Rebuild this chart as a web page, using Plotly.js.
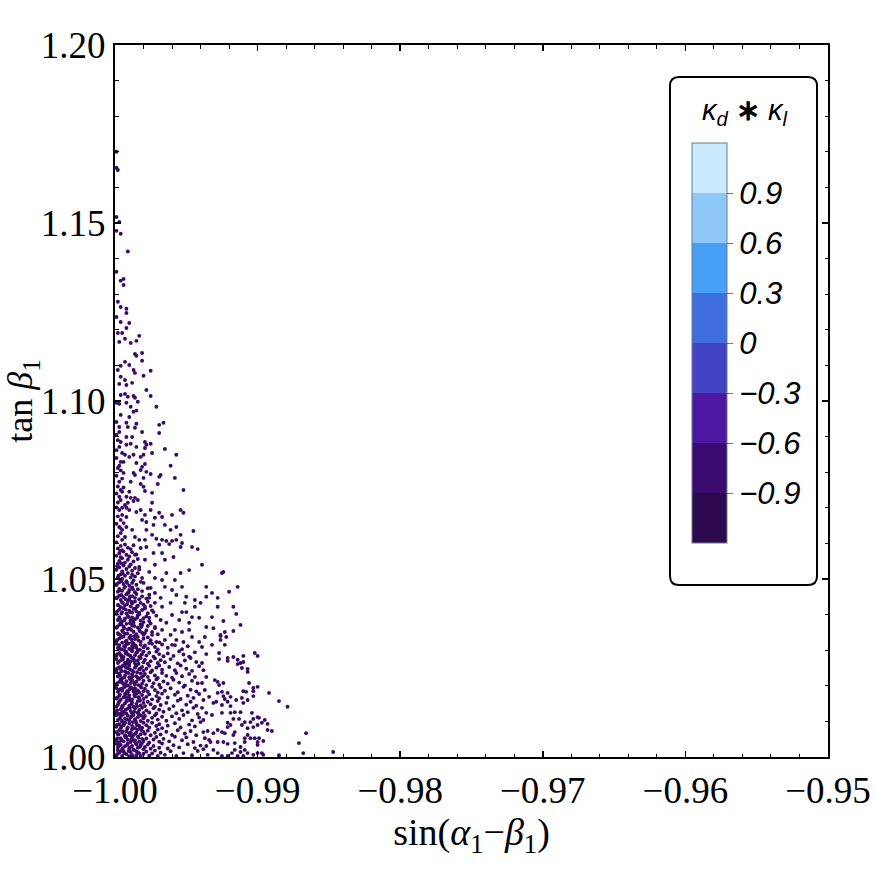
<!DOCTYPE html>
<html><head><meta charset="utf-8">
<script src="https://cdn.plot.ly/plotly-3.0.1.min.js"></script>
<style>html,body{margin:0;padding:0;background:#fff}#chart{width:875px;height:875px}</style>
</head><body><div id="chart"></div>
<script>
// Axis ticks
const xTickVals = [-1.00, -0.99, -0.98, -0.97, -0.96, -0.95];
const xTickText = ['\u22121.00', '\u22120.99', '\u22120.98', '\u22120.97', '\u22120.96', '\u22120.95'];
const yTickVals = [1.00, 1.05, 1.10, 1.15, 1.20];
const yTickText = ['1.00', '1.05', '1.10', '1.15', '1.20'];
// Colour legend (kappa_d * kappa_l)
const cbBounds = [-1.2, -0.9, -0.6, -0.3, 0, 0.3, 0.6, 0.9, 1.2];
const cbColors = ['#2c0a4d', '#3c0b72', '#4d17a1', '#4343c5', '#3f6fdf', '#469ef5', '#8dc8f9', '#cbe9fc'];
const cbTickVals = [-0.9, -0.6, -0.3, 0, 0.3, 0.6, 0.9];
const cbTickText = ['\u22120.9', '\u22120.6', '\u22120.3', '0', '0.3', '0.6', '0.9'];

// Scatter points [sin(a1-b1), tan b1]
const ptsUpper = [
[-0.9999,1.1700],[-0.9999,1.1655],[-0.9998,1.1649],[-0.9999,1.1517],[-0.9997,1.1503],[-0.9999,1.1478],[-0.9996,1.1470],[-0.9991,1.1420],[-0.9999,1.1363],[-0.9996,1.1338],
[-0.9994,1.1343],[-0.9994,1.1326],[-0.9998,1.1279],[-0.9996,1.1264],[-0.9992,1.1259],[-0.9992,1.1247],[-0.9999,1.1236],[-0.9996,1.1222],[-0.9990,1.1219],[-0.9992,1.1205],
[-0.9998,1.1191],[-0.9995,1.1191],[-0.9997,1.1166],[-0.9993,1.1175],[-0.9989,1.1163],[-0.9985,1.1169],[-0.9983,1.1183],[-0.9986,1.1132],[-0.9985,1.1127],[-0.9981,1.1135],
[-0.9981,1.1113],[-0.9993,1.1110],[-0.9990,1.1101],[-0.9996,1.1099],[-0.9998,1.1087],[-0.9987,1.1087],[-0.9986,1.1079],[-0.9975,1.1085],[-0.9996,1.1068],[-0.9993,1.1059],
[-0.9980,1.1071],[-0.9997,1.1048],[-0.9988,1.1051],[-0.9992,1.1045],[-0.9996,1.1017],[-0.9993,1.1020],[-0.9991,1.1012],[-0.9987,1.1014],[-0.9978,1.1031],[-0.9975,1.1014],
[-0.9999,1.0995],[-0.9997,1.0992],[-0.9992,1.0995],[-0.9989,1.0984],[-0.9986,1.1009],[-0.9984,1.0998],[-0.9971,1.0984],[-0.9987,1.0970],[-0.9996,1.0961],[-0.9990,1.0955],
[-0.9985,1.0973],[-0.9999,1.0941],[-0.9992,1.0939],[-0.9985,1.0936],[-0.9969,1.0933],[-0.9966,1.0939],[-0.9991,1.0927],[-0.9986,1.0925],[-0.9997,1.0927]
];
const ptsMidUpper = [
[-0.9997,1.0913],[-0.9992,1.0899],[-0.9988,1.0899],[-0.9981,1.0913],[-0.9969,1.0910],
[-0.9996,1.0885],[-0.9997,1.0871],[-0.9992,1.0877],[-0.9989,1.0880],[-0.9985,1.0871],[-0.9979,1.0885],[-0.9978,1.0877],[-0.9979,1.0868],[-0.9975,1.0880],[-0.9965,1.0865],[-0.9957,1.0849],
[-0.9995,1.0854],[-0.9993,1.0849],[-0.9999,1.0840],[-0.9996,1.0829],[-0.9990,1.0843],[-0.9987,1.0849],[-0.9982,1.0843],[-0.9980,1.0849],[-0.9974,1.0854],
[-0.9994,1.0829],[-0.9985,1.0826],[-0.9979,1.0823],[-0.9981,1.0815],[-0.9982,1.0806],[-0.9961,1.0818],[-0.9978,1.0801],
[-0.9994,1.0798],[-0.9987,1.0798],[-0.9986,1.0792],[-0.9975,1.0795],[-0.9969,1.0787],[-0.9968,1.0792],[-0.9958,1.0784],[-0.9980,1.0784],
[-0.9997,1.0773],[-0.9989,1.0773],[-0.9982,1.0767],[-0.9980,1.0759],[-0.9970,1.0767],[-0.9952,1.0750],
[-0.9996,1.0750],[-0.9995,1.0745],[-0.9990,1.0745],[-0.9979,1.0747],[-0.9974,1.0742],
[-0.9997,1.0731],[-0.9992,1.0731],[-0.9989,1.0728],[-0.9986,1.0728],[-0.9987,1.0719],[-0.9984,1.0722],[-0.9974,1.0714],[-0.9991,1.0714],[-0.9993,1.0708],
[-0.9997,1.0694],[-0.9992,1.0700],[-0.9990,1.0694],[-0.9982,1.0694],[-0.9985,1.0688],[-0.9975,1.0694],[-0.9969,1.0686],[-0.9954,1.0694],[-0.9952,1.0686],
[-0.9995,1.0680],[-0.9992,1.0674],[-0.9979,1.0680],[-0.9972,1.0672],[-0.9967,1.0674],[-0.9960,1.0680],
[-0.9996,1.0666],[-0.9981,1.0666],[-0.9978,1.0660],
[-0.9997,1.0646],[-0.9992,1.0646],[-0.9995,1.0638],[-0.9988,1.0638],[-0.9973,1.0652],[-0.9965,1.0652],[-0.9961,1.0638],[-0.9957,1.0646],[-0.9945,1.0635],[-0.9978,1.0638],
[-0.9996,1.0629],[-0.9993,1.0618],[-0.9995,1.0610],[-0.9986,1.0618],[-0.9983,1.0610],[-0.9974,1.0624],[-0.9971,1.0613],[-0.9967,1.0610],[-0.9964,1.0607],[-0.9960,1.0607],
[-0.9954,1.0624],[-0.9953,1.0601],[-0.9957,1.0610],[-0.9979,1.0610],
[-0.9999,1.0905],[-0.9998,1.0890],[-0.9999,1.0862],[-0.9998,1.0812],[-0.9999,1.0790],[-0.9998,1.0760],[-0.9999,1.0740],[-0.9998,1.0715],[-0.9999,1.0701],[-0.9998,1.0676],
[-0.9999,1.0655],[-0.9998,1.0620],[-0.9999,1.0603],[-0.9997,1.0818],[-0.9996,1.0805],[-0.9995,1.0782],[-0.9994,1.0757],[-0.9996,1.0722],[-0.9995,1.0700],[-0.9994,1.0657],[-0.9996,1.0643]
];
const ptsMid = [
[-0.9954,1.0590],[-0.9946,1.0590],[-0.9942,1.0584],[-0.9939,1.0540],[-0.9925,1.0517],[-0.9936,1.0478],[-0.9932,1.0461],[-0.9936,1.0450],[-0.9944,1.0441],[-0.9940,1.0433],
[-0.9950,1.0450],[-0.9951,1.0433],[-0.9944,1.0422],[-0.9932,1.0393],[-0.9936,1.0365],[-0.9931,1.0362],[-0.9926,1.0343],[-0.9937,1.0337],[-0.9932,1.0315],[-0.9941,1.0323],
[-0.9946,1.0337],[-0.9948,1.0357],[-0.9941,1.0391],[-0.9946,1.0393],[-0.9948,1.0377],[-0.9953,1.0407],[-0.9950,1.0407],[-0.9955,1.0385],[-0.9958,1.0357],[-0.9953,1.0351],
[-0.9961,1.0343],[-0.9957,1.0329],[-0.9952,1.0323],[-0.9960,1.0315],[-0.9965,1.0329],[-0.9967,1.0357],[-0.9964,1.0377],[-0.9960,1.0399],[-0.9968,1.0385],[-0.9972,1.0365],
[-0.9974,1.0343],[-0.9971,1.0323],[-0.9976,1.0320],[-0.9979,1.0348],[-0.9981,1.0371],[-0.9976,1.0391],[-0.9973,1.0407],[-0.9967,1.0422],[-0.9961,1.0433],[-0.9957,1.0455],
[-0.9960,1.0469],[-0.9953,1.0478],[-0.9958,1.0497],[-0.9964,1.0517],[-0.9954,1.0517],[-0.9948,1.0525],[-0.9967,1.0497],[-0.9965,1.0478],[-0.9972,1.0461],[-0.9976,1.0447],
[-0.9968,1.0447],[-0.9979,1.0422],[-0.9983,1.0405],[-0.9972,1.0433],[-0.9975,1.0475],[-0.9980,1.0489],[-0.9972,1.0503],[-0.9976,1.0520],[-0.9972,1.0540],[-0.9965,1.0554],
[-0.9959,1.0562],[-0.9967,1.0573],[-0.9973,1.0573],[-0.9979,1.0554],[-0.9983,1.0534],[-0.9978,1.0590],[-0.9969,1.0596],[-0.9962,1.0598],[-0.9982,1.0587],[-0.9986,1.0568]
];
const ptsRight = [
[-0.9924,1.0520],[-0.9914,1.0478],[-0.9920,1.0464],[-0.9928,1.0447],[-0.9928,1.0422],[-0.9917,1.0422],[-0.9915,1.0402],[-0.9924,1.0382],[-0.9912,1.0371],[-0.9917,1.0354],
[-0.9923,1.0351],[-0.9926,1.0340],[-0.9922,1.0337],[-0.9926,1.0329],[-0.9923,1.0315],[-0.9927,1.0292],[-0.9902,1.0292],[-0.9900,1.0284],[-0.9910,1.0284],[-0.9917,1.0281],
[-0.9921,1.0278],[-0.9921,1.0270],[-0.9914,1.0273],[-0.9912,1.0264],[-0.9910,1.0267],[-0.9914,1.0261],[-0.9911,1.0250],[-0.9907,1.0247],[-0.9907,1.0239],[-0.9927,1.0275],
[-0.9930,1.0216],[-0.9928,1.0211],[-0.9924,1.0208],[-0.9927,1.0202],[-0.9906,1.0208],[-0.9903,1.0194],[-0.9900,1.0197],[-0.9903,1.0185],[-0.9910,1.0185],[-0.9908,1.0183],
[-0.9928,1.0180],[-0.9925,1.0183],[-0.9924,1.0171],[-0.9921,1.0180],[-0.9903,1.0171],[-0.9892,1.0180],[-0.9923,1.0163],[-0.9919,1.0169],[-0.9921,1.0155],[-0.9915,1.0160],
[-0.9911,1.0166],[-0.9907,1.0160],[-0.9929,1.0155],[-0.9885,1.0157],[-0.9879,1.0141],[-0.9925,1.0146],[-0.9919,1.0143],[-0.9910,1.0152],[-0.9919,1.0124],[-0.9916,1.0126],
[-0.9912,1.0126],[-0.9904,1.0124],[-0.9925,1.0124],[-0.9903,1.0107],[-0.9900,1.0112],[-0.9899,1.0110],[-0.9905,1.0098],[-0.9897,1.0096],[-0.9895,1.0104],[-0.9893,1.0093],
[-0.9909,1.0098],[-0.9913,1.0107],[-0.9917,1.0107],[-0.9921,1.0096],[-0.9921,1.0084],[-0.9919,1.0090],[-0.9911,1.0090],[-0.9907,1.0081],[-0.9903,1.0084],[-0.9900,1.0090],
[-0.9893,1.0076],[-0.9890,1.0073],[-0.9928,1.0076],[-0.9925,1.0070],[-0.9923,1.0067],[-0.9916,1.0070],[-0.9917,1.0062],[-0.9907,1.0062],[-0.9909,1.0053],[-0.9905,1.0053],
[-0.9902,1.0053],[-0.9899,1.0053],[-0.9900,1.0042],[-0.9896,1.0045],[-0.9866,1.0067],[-0.9871,1.0039],[-0.9868,1.0011],[-0.9885,1.0005],[-0.9900,1.0034],[-0.9928,1.0042],
[-0.9924,1.0042],[-0.9921,1.0037],[-0.9916,1.0039],[-0.9912,1.0028],[-0.9909,1.0042],[-0.9916,1.0020],[-0.9912,1.0014],[-0.9909,1.0020],[-0.9907,1.0011],[-0.9903,1.0006],
[-0.9900,1.0011],[-0.9897,1.0011],[-0.9896,1.0006],[-0.9928,1.0011],[-0.9925,1.0003],[-0.9918,1.0011],[-0.9921,1.0003],[-0.9914,1.0003],[-0.9910,1.0003],[-0.9847,1.0014],
[-0.9939,1.0309],[-0.9936,1.0289],[-0.9939,1.0264],[-0.9938,1.0244],[-0.9936,1.0225],[-0.9939,1.0208],[-0.9937,1.0188],[-0.9934,1.0169],[-0.9938,1.0160],[-0.9931,1.0152],
[-0.9939,1.0138],[-0.9936,1.0124],[-0.9932,1.0118],[-0.9938,1.0104],[-0.9938,1.0070],[-0.9935,1.0073],[-0.9931,1.0067],[-0.9937,1.0053],[-0.9933,1.0042],[-0.9936,1.0031],
[-0.9938,1.0022],[-0.9931,1.0020],[-0.9935,1.0006]
];
const ptsDense = [
[-0.9999,1.0004],[-0.9997,1.0012],[-0.9995,1.0003],[-0.9994,1.0016],[-0.9992,1.0008],[-0.9990,1.0002],[-0.9989,1.0014],[-0.9988,1.0006],[-0.9986,1.0018],[-0.9985,1.0005],[-0.9983,1.0011],[-0.9982,1.0002],[-0.9980,1.0009],[-0.9998,1.0019],
[-0.9978,1.0015],[-0.9976,1.0004],[-0.9974,1.0010],[-0.9972,1.0018],[-0.9970,1.0003],[-0.9968,1.0012],[-0.9965,1.0006],[-0.9961,1.0016],[-0.9957,1.0003],[-0.9952,1.0011],[-0.9946,1.0005],[-0.9942,1.0017],
[-0.9998,1.0027],[-0.9996,1.0034],[-0.9995,1.0022],[-0.9993,1.0030],[-0.9991,1.0038],[-0.9990,1.0024],[-0.9988,1.0031],[-0.9987,1.0021],[-0.9985,1.0036],[-0.9984,1.0026],[-0.9982,1.0033],[-0.9980,1.0022],[-0.9999,1.0037],[-0.9981,1.0039],
[-0.9979,1.0028],[-0.9977,1.0035],[-0.9975,1.0023],[-0.9973,1.0031],[-0.9969,1.0026],[-0.9967,1.0038],[-0.9963,1.0024],[-0.9959,1.0033],[-0.9955,1.0027],[-0.9949,1.0036],[-0.9944,1.0025],[-0.9940,1.0032],
[-0.9999,1.0046],[-0.9997,1.0041],[-0.9996,1.0053],[-0.9994,1.0044],[-0.9992,1.0057],[-0.9991,1.0048],[-0.9989,1.0042],[-0.9988,1.0055],[-0.9986,1.0047],[-0.9984,1.0058],[-0.9983,1.0043],[-0.9981,1.0051],[-0.9980,1.0045],[-0.9993,1.0059],
[-0.9978,1.0052],[-0.9976,1.0041],[-0.9973,1.0049],[-0.9971,1.0056],[-0.9969,1.0043],[-0.9966,1.0051],[-0.9962,1.0044],[-0.9958,1.0057],[-0.9953,1.0047],[-0.9950,1.0055],[-0.9945,1.0042],[-0.9934,1.0048],
[-0.9998,1.0063],[-0.9997,1.0075],[-0.9995,1.0068],[-0.9993,1.0061],[-0.9992,1.0072],[-0.9990,1.0066],[-0.9988,1.0078],[-0.9987,1.0062],[-0.9985,1.0070],[-0.9984,1.0077],[-0.9982,1.0064],[-0.9980,1.0071],[-0.9999,1.0070],[-0.9989,1.0069],
[-0.9979,1.0065],[-0.9977,1.0074],[-0.9975,1.0061],[-0.9972,1.0068],[-0.9970,1.0077],[-0.9968,1.0063],[-0.9964,1.0071],[-0.9960,1.0062],[-0.9956,1.0075],[-0.9951,1.0066],[-0.9947,1.0073],[-0.9943,1.0061],
[-0.9999,1.0085],[-0.9997,1.0092],[-0.9996,1.0081],[-0.9994,1.0089],[-0.9993,1.0097],[-0.9991,1.0083],[-0.9990,1.0094],[-0.9988,1.0087],[-0.9986,1.0081],[-0.9985,1.0095],[-0.9983,1.0088],[-0.9981,1.0082],[-0.9980,1.0096],[-0.9995,1.0099],
[-0.9978,1.0089],[-0.9976,1.0083],[-0.9974,1.0096],[-0.9971,1.0087],[-0.9969,1.0092],[-0.9967,1.0081],[-0.9963,1.0088],[-0.9958,1.0095],[-0.9954,1.0083],[-0.9948,1.0091],[-0.9944,1.0086],[-0.9940,1.0098],
[-0.9998,1.0104],[-0.9996,1.0113],[-0.9995,1.0101],[-0.9993,1.0108],[-0.9991,1.0116],[-0.9990,1.0103],[-0.9989,1.0111],[-0.9987,1.0118],[-0.9986,1.0106],[-0.9984,1.0112],[-0.9982,1.0101],[-0.9980,1.0109],[-0.9999,1.0117],[-0.9983,1.0119],
[-0.9979,1.0115],[-0.9977,1.0102],[-0.9974,1.0110],[-0.9972,1.0117],[-0.9970,1.0105],[-0.9967,1.0113],[-0.9964,1.0102],[-0.9960,1.0114],[-0.9955,1.0107],[-0.9952,1.0118],[-0.9946,1.0103],[-0.9941,1.0111],
[-0.9999,1.0126],[-0.9997,1.0121],[-0.9996,1.0134],[-0.9994,1.0127],[-0.9992,1.0122],[-0.9991,1.0136],[-0.9989,1.0129],[-0.9988,1.0123],[-0.9986,1.0137],[-0.9984,1.0125],[-0.9983,1.0132],[-0.9981,1.0138],[-0.9980,1.0124],[-0.9995,1.0139],
[-0.9978,1.0131],[-0.9976,1.0125],[-0.9973,1.0137],[-0.9971,1.0122],[-0.9969,1.0133],[-0.9966,1.0127],[-0.9962,1.0135],[-0.9957,1.0123],[-0.9953,1.0131],[-0.9949,1.0126],[-0.9945,1.0138],[-0.9942,1.0121],
[-0.9998,1.0147],[-0.9997,1.0156],[-0.9995,1.0142],[-0.9993,1.0151],[-0.9992,1.0158],[-0.9990,1.0144],[-0.9988,1.0153],[-0.9987,1.0141],[-0.9985,1.0149],[-0.9984,1.0157],[-0.9982,1.0145],[-0.9980,1.0152],[-0.9999,1.0141],[-0.9989,1.0159],
[-0.9979,1.0143],[-0.9977,1.0155],[-0.9975,1.0148],[-0.9972,1.0141],[-0.9970,1.0157],[-0.9968,1.0146],[-0.9964,1.0152],[-0.9959,1.0143],[-0.9956,1.0158],[-0.9950,1.0147],[-0.9947,1.0155],[-0.9943,1.0144],
[-0.9999,1.0164],[-0.9997,1.0172],[-0.9996,1.0161],[-0.9994,1.0168],[-0.9993,1.0177],[-0.9991,1.0165],[-0.9990,1.0173],[-0.9988,1.0162],[-0.9986,1.0170],[-0.9985,1.0178],[-0.9983,1.0166],[-0.9981,1.0174],[-0.9980,1.0163],[-0.9992,1.0179],
[-0.9978,1.0169],[-0.9976,1.0176],[-0.9974,1.0162],[-0.9971,1.0171],[-0.9969,1.0165],[-0.9967,1.0178],[-0.9963,1.0167],[-0.9958,1.0175],[-0.9954,1.0163],[-0.9949,1.0172],[-0.9945,1.0166],[-0.9941,1.0177],
[-0.9998,1.0183],[-0.9996,1.0191],[-0.9995,1.0186],[-0.9993,1.0197],[-0.9991,1.0182],[-0.9990,1.0189],[-0.9989,1.0196],[-0.9987,1.0184],[-0.9986,1.0193],[-0.9984,1.0187],[-0.9982,1.0198],[-0.9980,1.0185],[-0.9999,1.0194],[-0.9983,1.0181],
[-0.9979,1.0192],[-0.9977,1.0184],[-0.9974,1.0197],[-0.9972,1.0188],[-0.9970,1.0181],[-0.9968,1.0195],[-0.9965,1.0186],[-0.9961,1.0193],[-0.9956,1.0182],[-0.9952,1.0197],[-0.9947,1.0189],[-0.9943,1.0184],
[-0.9999,1.0203],[-0.9997,1.0211],[-0.9996,1.0218],[-0.9994,1.0205],[-0.9992,1.0213],[-0.9991,1.0201],[-0.9989,1.0208],[-0.9988,1.0216],[-0.9986,1.0204],[-0.9985,1.0212],[-0.9983,1.0219],[-0.9981,1.0206],[-0.9980,1.0214],[-0.9995,1.0209],
[-0.9978,1.0202],[-0.9976,1.0215],[-0.9973,1.0207],[-0.9971,1.0218],[-0.9969,1.0203],[-0.9966,1.0212],[-0.9963,1.0206],[-0.9959,1.0217],[-0.9955,1.0209],[-0.9951,1.0201],[-0.9946,1.0214],[-0.9942,1.0207],
[-0.9998,1.0226],[-0.9997,1.0234],[-0.9995,1.0221],[-0.9993,1.0229],[-0.9992,1.0237],[-0.9990,1.0224],[-0.9988,1.0232],[-0.9987,1.0239],[-0.9985,1.0227],[-0.9984,1.0222],[-0.9982,1.0235],[-0.9980,1.0228],[-0.9999,1.0238],[-0.9989,1.0221],
[-0.9979,1.0233],[-0.9977,1.0225],[-0.9975,1.0238],[-0.9972,1.0229],[-0.9970,1.0222],[-0.9967,1.0236],[-0.9964,1.0228],[-0.9960,1.0223],[-0.9957,1.0236],[-0.9953,1.0227],[-0.9948,1.0233],[-0.9944,1.0225],
[-0.9999,1.0244],[-0.9997,1.0252],[-0.9996,1.0247],[-0.9994,1.0258],[-0.9993,1.0241],[-0.9991,1.0249],[-0.9990,1.0256],[-0.9988,1.0243],[-0.9986,1.0251],[-0.9985,1.0258],[-0.9983,1.0246],[-0.9981,1.0253],[-0.9980,1.0242],[-0.9995,1.0255],
[-0.9978,1.0248],[-0.9976,1.0256],[-0.9974,1.0243],[-0.9971,1.0251],[-0.9969,1.0257],[-0.9967,1.0245],[-0.9962,1.0253],[-0.9958,1.0244],[-0.9954,1.0257],[-0.9950,1.0248],[-0.9946,1.0242],[-0.9941,1.0255],
[-0.9998,1.0264],[-0.9996,1.0271],[-0.9995,1.0278],[-0.9993,1.0265],[-0.9991,1.0273],[-0.9990,1.0261],[-0.9989,1.0268],[-0.9987,1.0276],[-0.9986,1.0263],[-0.9984,1.0271],[-0.9982,1.0278],[-0.9980,1.0266],[-0.9999,1.0275],[-0.9992,1.0262],
[-0.9979,1.0273],[-0.9977,1.0262],[-0.9975,1.0269],[-0.9972,1.0277],[-0.9970,1.0264],[-0.9968,1.0272],[-0.9965,1.0266],[-0.9961,1.0275],[-0.9956,1.0263],[-0.9951,1.0271],[-0.9947,1.0278],[-0.9943,1.0267],
[-0.9999,1.0284],[-0.9997,1.0292],[-0.9996,1.0287],[-0.9994,1.0281],[-0.9992,1.0295],[-0.9991,1.0288],[-0.9989,1.0282],[-0.9988,1.0297],[-0.9986,1.0286],[-0.9985,1.0293],[-0.9983,1.0281],[-0.9981,1.0289],[-0.9980,1.0296],[-0.9993,1.0298],
[-0.9978,1.0285],[-0.9976,1.0293],[-0.9973,1.0282],[-0.9971,1.0296],[-0.9969,1.0289],[-0.9966,1.0283],[-0.9963,1.0291],[-0.9959,1.0284],[-0.9955,1.0297],[-0.9952,1.0288],[-0.9948,1.0282],[-0.9944,1.0294],
[-0.9998,1.0306],[-0.9997,1.0314],[-0.9995,1.0302],[-0.9993,1.0309],[-0.9992,1.0317],[-0.9990,1.0304],[-0.9988,1.0312],[-0.9987,1.0319],[-0.9985,1.0307],[-0.9984,1.0301],[-0.9982,1.0315],[-0.9980,1.0308],[-0.9999,1.0318],[-0.9989,1.0303],
[-0.9979,1.0313],[-0.9977,1.0305],[-0.9974,1.0318],[-0.9972,1.0309],[-0.9970,1.0302],[-0.9967,1.0316],[-0.9963,1.0307],[-0.9958,1.0314],[-0.9953,1.0303],[-0.9949,1.0311],
[-0.9999,1.0325],[-0.9997,1.0333],[-0.9995,1.0321],[-0.9994,1.0338],[-0.9992,1.0327],[-0.9990,1.0335],[-0.9988,1.0322],[-0.9986,1.0331],[-0.9984,1.0337],[-0.9982,1.0324],[-0.9980,1.0332],[-0.9977,1.0336],[-0.9975,1.0328],[-0.9969,1.0322],
[-0.9998,1.0348],[-0.9996,1.0342],[-0.9995,1.0355],[-0.9993,1.0346],[-0.9991,1.0358],[-0.9989,1.0341],[-0.9987,1.0352],[-0.9985,1.0345],[-0.9983,1.0357],[-0.9981,1.0349],[-0.9980,1.0343],[-0.9978,1.0356],[-0.9974,1.0351],[-0.9970,1.0345],
[-0.9999,1.0363],[-0.9997,1.0371],[-0.9996,1.0378],[-0.9994,1.0366],[-0.9992,1.0374],[-0.9990,1.0361],[-0.9988,1.0369],[-0.9987,1.0377],[-0.9984,1.0364],[-0.9982,1.0372],[-0.9980,1.0379],[-0.9977,1.0368],[-0.9975,1.0375],[-0.9972,1.0362],
[-0.9998,1.0385],[-0.9997,1.0393],[-0.9995,1.0381],[-0.9993,1.0389],[-0.9991,1.0396],[-0.9989,1.0384],[-0.9988,1.0392],[-0.9986,1.0387],[-0.9984,1.0398],[-0.9982,1.0383],[-0.9980,1.0390],[-0.9978,1.0395],[-0.9976,1.0382],[-0.9971,1.0397],
[-0.9999,1.0402],[-0.9997,1.0414],[-0.9995,1.0407],[-0.9994,1.0418],[-0.9992,1.0403],[-0.9990,1.0411],[-0.9988,1.0406],[-0.9987,1.0416],[-0.9985,1.0409],[-0.9983,1.0401],[-0.9981,1.0413],[-0.9979,1.0417],[-0.9977,1.0404],[-0.9974,1.0412],
[-0.9998,1.0427],[-0.9996,1.0421],[-0.9995,1.0434],[-0.9993,1.0426],[-0.9991,1.0438],[-0.9989,1.0423],[-0.9988,1.0431],[-0.9986,1.0437],[-0.9984,1.0425],[-0.9982,1.0433],[-0.9980,1.0428],[-0.9977,1.0436],[-0.9975,1.0424],
[-0.9999,1.0446],[-0.9997,1.0453],[-0.9996,1.0441],[-0.9994,1.0449],[-0.9992,1.0457],[-0.9990,1.0444],[-0.9988,1.0452],[-0.9986,1.0447],[-0.9985,1.0458],[-0.9983,1.0443],[-0.9981,1.0451],[-0.9978,1.0445],[-0.9976,1.0456],
[-0.9998,1.0464],[-0.9997,1.0472],[-0.9995,1.0467],[-0.9993,1.0478],[-0.9991,1.0461],[-0.9990,1.0469],[-0.9988,1.0476],[-0.9986,1.0463],[-0.9984,1.0471],[-0.9981,1.0466],[-0.9977,1.0474],
[-0.9999,1.0483],[-0.9997,1.0491],[-0.9996,1.0497],[-0.9994,1.0486],[-0.9992,1.0494],[-0.9990,1.0481],[-0.9988,1.0489],[-0.9987,1.0496],[-0.9985,1.0484],[-0.9982,1.0492],
[-0.9998,1.0505],[-0.9996,1.0513],[-0.9995,1.0501],[-0.9993,1.0509],[-0.9991,1.0517],[-0.9989,1.0504],[-0.9988,1.0512],[-0.9986,1.0507],[-0.9984,1.0516],[-0.9981,1.0503],
[-0.9999,1.0526],[-0.9997,1.0533],[-0.9995,1.0521],[-0.9994,1.0538],[-0.9992,1.0528],[-0.9990,1.0535],[-0.9988,1.0523],[-0.9986,1.0531],[-0.9983,1.0527],
[-0.9998,1.0543],[-0.9997,1.0551],[-0.9995,1.0558],[-0.9993,1.0546],[-0.9991,1.0554],[-0.9989,1.0541],[-0.9987,1.0549],[-0.9984,1.0556],
[-0.9999,1.0565],[-0.9997,1.0572],[-0.9996,1.0561],[-0.9994,1.0577],[-0.9992,1.0568],[-0.9990,1.0563],[-0.9988,1.0575],[-0.9985,1.0569],
[-0.9998,1.0586],[-0.9996,1.0593],[-0.9995,1.0581],[-0.9993,1.0597],[-0.9991,1.0588],[-0.9989,1.0584],[-0.9987,1.0595]
];
const ptsDenseCore = [
[-0.99985,1.0008],[-0.99965,1.0015],[-0.99935,1.0011],[-0.99905,1.0017],[-0.99875,1.0001],[-0.99845,1.0014],
[-0.99975,1.0031],[-0.99945,1.0025],[-0.99915,1.0034],[-0.99895,1.0027],[-0.99855,1.0039],[-0.99825,1.0029],
[-0.99985,1.0052],[-0.99955,1.0047],[-0.99925,1.0055],[-0.99885,1.0049],[-0.99865,1.0044],[-0.99835,1.0054],
[-0.99975,1.0064],[-0.99945,1.0072],[-0.99915,1.0079],[-0.99895,1.0061],[-0.99855,1.0066],[-0.99815,1.0076],
[-0.99985,1.0091],[-0.99955,1.0086],[-0.99935,1.0094],[-0.99875,1.0098],[-0.99845,1.0089],[-0.99825,1.0084],
[-0.99965,1.0108],[-0.99945,1.0119],[-0.99915,1.0105],[-0.99885,1.0114],[-0.99855,1.0101],[-0.99815,1.0116],
[-0.99985,1.0131],[-0.99955,1.0124],[-0.99925,1.0133],[-0.99895,1.0138],[-0.99865,1.0127],[-0.99835,1.0121],
[-0.99975,1.0152],[-0.99945,1.0145],[-0.99915,1.0157],[-0.99885,1.0148],[-0.99845,1.0142],[-0.99825,1.0158],
[-0.99985,1.0167],[-0.99965,1.0176],[-0.99925,1.0169],[-0.99895,1.0163],[-0.99865,1.0175],[-0.99835,1.0168],
[-0.99975,1.0188],[-0.99945,1.0193],[-0.99915,1.0185],[-0.99875,1.0191],[-0.99855,1.0184],[-0.99815,1.0195],
[-0.99985,1.0207],[-0.99955,1.0214],[-0.99925,1.0203],[-0.99895,1.0219],[-0.99865,1.0209],[-0.99835,1.0202],
[-0.99965,1.0229],[-0.99935,1.0223],[-0.99905,1.0236],[-0.99875,1.0227],[-0.99845,1.0238],[-0.99815,1.0224],
[-0.99985,1.0249],[-0.99955,1.0241],[-0.99925,1.0253],[-0.99895,1.0246],[-0.99855,1.0254],[-0.99825,1.0248],
[-0.99975,1.0268],[-0.99945,1.0274],[-0.99915,1.0266],[-0.99885,1.0279],[-0.99865,1.0271],[-0.99835,1.0262],
[-0.99985,1.0289],[-0.99955,1.0283],[-0.99925,1.0291],[-0.99895,1.0285],[-0.99845,1.0294],[-0.99815,1.0287],
[-0.99965,1.0304],[-0.99935,1.0311],[-0.99905,1.0319],[-0.99875,1.0306],[-0.99855,1.0313],[-0.99825,1.0301],
[-0.99985,1.0329],[-0.99955,1.0336],[-0.99925,1.0324],[-0.99885,1.0331],[-0.99865,1.0339],[-0.99835,1.0327],
[-0.99975,1.0345],[-0.99945,1.0352],[-0.99915,1.0347],[-0.99885,1.0357],[-0.99855,1.0341],[-0.99825,1.0353],
[-0.99985,1.0366],[-0.99955,1.0373],[-0.99935,1.0362],[-0.99895,1.0376],[-0.99865,1.0368],[-0.99815,1.0365],
[-0.99965,1.0388],[-0.99935,1.0384],[-0.99905,1.0393],[-0.99875,1.0386],[-0.99845,1.0391],
[-0.99985,1.0409],[-0.99955,1.0403],[-0.99925,1.0414],[-0.99895,1.0407],[-0.99855,1.0418],
[-0.99975,1.0426],[-0.99945,1.0433],[-0.99915,1.0429],[-0.99885,1.0436],[-0.99845,1.0423],
[-0.99985,1.0448],[-0.99955,1.0455],[-0.99925,1.0443],[-0.99895,1.0451],
[-0.99965,1.0468],[-0.99935,1.0475],[-0.99905,1.0463],[-0.99875,1.0471],
[-0.99985,1.0487],[-0.99955,1.0494],[-0.99915,1.0489],
[-0.99975,1.0509],[-0.99945,1.0515],[-0.99985,1.0536],[-0.99955,1.0544],[-0.99965,1.0579]
];

const allPts = ptsDense.concat(ptsDenseCore, ptsRight, ptsMid, ptsMidUpper, ptsUpper);
const sinAB = allPts.map(p => p[0]);
const tanB = allPts.map(p => p[1]);

// discrete colour scale from bounds
const cmin = cbBounds[0], cmax = cbBounds[cbBounds.length - 1];
const colorscale = [];
cbColors.forEach((c, i) => {
  colorscale.push([(cbBounds[i] - cmin) / (cmax - cmin), c]);
  colorscale.push([(cbBounds[i + 1] - cmin) / (cmax - cmin), c]);
});

const W = 875, H = 875, mL = 115, mR = 47, mT = 45, mB = 118;
const pw = W - mL - mR, ph = H - mT - mB;
const px = v => (v - mL) / pw;          // pixel -> paper x
const py = v => (H - mB - v) / ph;      // pixel -> paper y

const serif = 'Liberation Serif, Times New Roman, serif';
const sans = 'Liberation Sans, Arial, sans-serif';

const traces = [
  {
    type: 'scatter', mode: 'markers', x: sinAB, y: tanB,
    marker: {size: 3.9, color: '#3a0a66', line: {width: 0}},
    hoverinfo: 'skip', showlegend: false, cliponaxis: true
  },
  {
    type: 'scatter', mode: 'markers', x: [-2, -2], y: [0, 0],
    marker: {
      size: 1, color: [cmin, cmax], cmin: cmin, cmax: cmax, colorscale: colorscale, showscale: true,
      colorbar: {
        thickness: 35, thicknessmode: 'pixels', len: 400, lenmode: 'pixels',
        x: px(692), xanchor: 'left', xref: 'paper', y: py(343), yanchor: 'middle', yref: 'paper',
        xpad: 0, ypad: 0, outlinewidth: 1, outlinecolor: '#6b7b8b', borderwidth: 0,
        tickmode: 'array', tickvals: cbTickVals, ticktext: cbTickText,
        ticks: 'outside', ticklen: 6, tickwidth: 1, tickcolor: '#6b7b8b',
        tickfont: {family: sans, size: 31, style: 'italic', color: '#000'}
      }
    },
    hoverinfo: 'skip', showlegend: false
  }
];

const r = 9;
const bx0 = px(670), bx1 = px(817), by0 = py(585), by1 = py(77);
const rx = r / pw, ry = r / ph;
const boxPath = `M ${bx0 + rx} ${by1} L ${bx1 - rx} ${by1} Q ${bx1} ${by1} ${bx1} ${by1 - ry} ` +
  `L ${bx1} ${by0 + ry} Q ${bx1} ${by0} ${bx1 - rx} ${by0} L ${bx0 + rx} ${by0} Q ${bx0} ${by0} ${bx0} ${by0 + ry} ` +
  `L ${bx0} ${by1 - ry} Q ${bx0} ${by1} ${bx0 + rx} ${by1} Z`;

const layout = {
  width: W, height: H,
  margin: {l: mL, r: mR, t: mT, b: mB},
  paper_bgcolor: '#fff', plot_bgcolor: '#fff',
  showlegend: false,
  xaxis: {
    range: [-1.0, -0.95], autorange: false,
    tickmode: 'array', tickvals: xTickVals, ticktext: xTickText,
    ticks: 'inside', ticklen: 6, tickwidth: 1.5, tickcolor: '#000',
    minor: {ticks: 'inside', ticklen: 3.5, tickwidth: 1, tickcolor: '#000', tickmode: 'linear', tick0: -1, dtick: 0.002, showgrid: false},
    showline: true, linewidth: 2, linecolor: '#000', mirror: 'allticks',
    showgrid: false, zeroline: false,
    tickfont: {family: serif, size: 37, color: '#000'},
    title: {text: 'sin(<i>α</i><sub>1</sub>\u2212<i>β</i><sub>1</sub>)', font: {family: serif, size: 38, color: '#000'}, standoff: 6},
    automargin: false
  },
  yaxis: {
    range: [1.0, 1.2], autorange: false,
    tickmode: 'array', tickvals: yTickVals, ticktext: yTickText,
    ticks: 'inside', ticklen: 6, tickwidth: 1.5, tickcolor: '#000',
    minor: {ticks: 'inside', ticklen: 3.5, tickwidth: 1, tickcolor: '#000', tickmode: 'linear', tick0: 1, dtick: 0.01, showgrid: false},
    showline: true, linewidth: 2, linecolor: '#000', mirror: 'allticks',
    showgrid: false, zeroline: false,
    tickfont: {family: serif, size: 37, color: '#000'},
    title: {text: 'tan <i>β</i><sub>1</sub>', font: {family: serif, size: 36, color: '#000'}, standoff: 4},
    automargin: false
  },
  shapes: [{
    type: 'path', xref: 'paper', yref: 'paper', path: boxPath,
    line: {color: '#000', width: 2}, fillcolor: '#fff', layer: 'above'
  }],
  annotations: [{
    xref: 'paper', yref: 'paper', x: px(744), y: py(112), xanchor: 'center', yanchor: 'middle',
    text: '<i>κ<sub>d</sub></i> <b>\u2217</b> <i>κ<sub>l</sub></i>', showarrow: false,
    font: {family: sans, size: 29, color: '#000'}
  }]
};

Plotly.newPlot('chart', traces, layout, {staticPlot: true, displayModeBar: false});
</script>
</body></html>
